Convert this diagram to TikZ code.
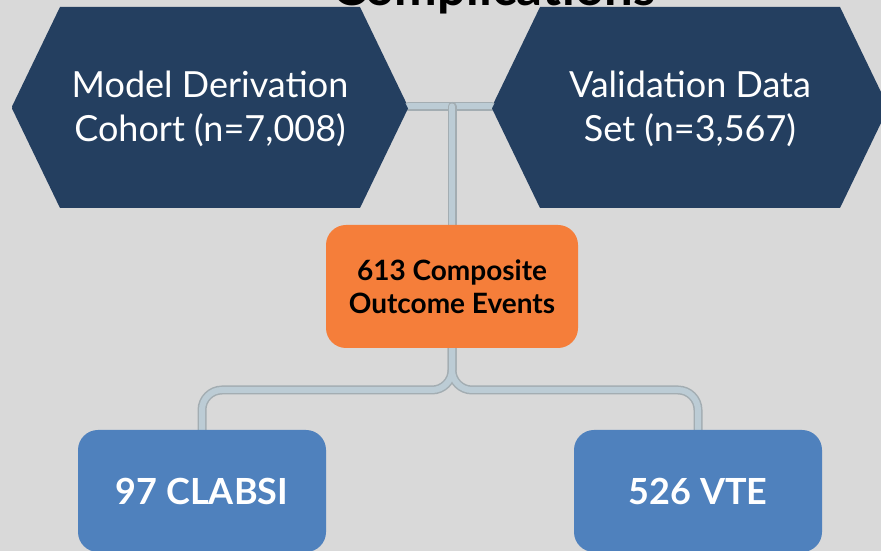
\documentclass[tikz,border=0pt]{standalone}
\usepackage{fontspec}
\setmainfont{Lato}
\definecolor{bgc}{HTML}{D9D9D9}
\definecolor{hexblue}{HTML}{243F60}
\definecolor{orangebox}{HTML}{F57E3A}
\definecolor{bluebox}{HTML}{4F81BD}
\definecolor{pipefill}{HTML}{BCCCD5}
\definecolor{pipeedge}{HTML}{A3ADB2}
\begin{document}
\begin{tikzpicture}[x=1pt,y=1pt,
  hexbox/.style={minimum width=396pt, minimum height=199pt, inner sep=0pt,
    text=white, align=center,
    font=\fontsize{36}{44}\selectfont,
    path picture={\fill[hexblue] (path picture bounding box.west)
      -- ([xshift=48pt]path picture bounding box.north west)
      -- ([xshift=-48pt]path picture bounding box.north east)
      -- (path picture bounding box.east)
      -- ([xshift=-48pt]path picture bounding box.south east)
      -- ([xshift=48pt]path picture bounding box.south west) -- cycle;}},
  obox/.style={fill=orangebox, rounded corners=20pt, minimum width=252pt,
    minimum height=123pt, inner sep=0pt, align=center, text=black,
    font=\fontsize{28}{33}\selectfont\bfseries},
  bbox/.style={fill=bluebox, rounded corners=20pt, minimum width=248pt,
    minimum height=122pt, inner sep=0pt, align=center, text=white,
    font=\fontsize{36}{44}\selectfont\bfseries},
  pipeout/.style={line width=9pt, pipeedge, line cap=round},
  pipein/.style={line width=6pt, pipefill, line cap=round}
]
\fill[bgc] (0,0) rectangle (881,551);
\useasboundingbox (0,0) rectangle (881,551);

% nodes (invisible placement first for names)
\path (210,444.5) node[hexbox] (L) {}
      (690,444.5) node[hexbox] (R) {}
      (452,264.5) node[obox, fill=none] (O) {}
      (202,60) node[bbox, fill=none] (A) {}
      (698,60) node[bbox, fill=none] (V) {};
\coordinate (split) at (452,161);

% pipes
\draw[pipeout] (L.east) -- (R.west);
\draw[pipein]  (L.east) -- (R.west);
\draw[pipeout] (O.north |- L.east) -- (O.north);
\draw[pipein]  (O.north |- L.east) -- (O.north);
\draw[pipeout, rounded corners=20pt] (O.south) -- (O.south |- split) -- (A.north |- split) -- (A.north);
\draw[pipeout, rounded corners=20pt] (O.south) -- (O.south |- split) -- (V.north |- split) -- (V.north);
\draw[pipein, rounded corners=20pt] (O.south) -- (O.south |- split) -- (A.north |- split) -- (A.north);
\draw[pipein, rounded corners=20pt] (O.south) -- (O.south |- split) -- (V.north |- split) -- (V.north);

% shapes with text
\node[hexbox] at ([yshift=-2pt]L) {Model Derivation\\Cohort (n=7,008)};
\node[hexbox] at ([yshift=-2pt]R) {Validation Data\\Set (n=3,567)};
\node[obox] at (O) {613 Composite\\Outcome Events};
\node[bbox] at (A) {97 CLABSI};
\node[bbox] at (V) {526 VTE};

\node[anchor=base, font=\fontsize{51}{56}\selectfont\bfseries, text=black, inner sep=0pt] (T) at (494,545) {Complications};
\end{tikzpicture}
\end{document}
